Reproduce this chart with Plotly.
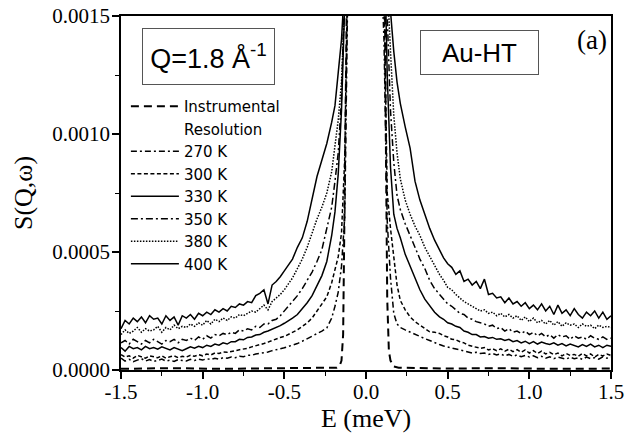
import plotly.graph_objects as go

# ---------------- data (S(Q,w) values in units of 1e-4) ----------------
SCALE = 1e-4

E_left = [-1.500, -1.475, -1.450, -1.425, -1.400, -1.375, -1.350, -1.325, -1.300, -1.275,
          -1.250, -1.225, -1.200, -1.175, -1.150, -1.125, -1.100, -1.075, -1.050, -1.025,
          -1.000, -0.975, -0.950, -0.925, -0.900, -0.875, -0.850, -0.825, -0.800, -0.775,
          -0.750, -0.725, -0.700, -0.675, -0.650, -0.625, -0.600, -0.575, -0.550, -0.525,
          -0.500, -0.475, -0.450]
E_core = [-0.42, -0.39, -0.36, -0.33, -0.30, -0.27, -0.24, -0.21, -0.19, -0.17, -0.15, -0.13, -0.11,
          0.0,
          0.11, 0.13, 0.15, 0.17, 0.19, 0.21, 0.24, 0.27, 0.30, 0.33, 0.36, 0.39, 0.42]
E_right = [0.450, 0.475, 0.500, 0.525, 0.550, 0.575, 0.600, 0.625, 0.650, 0.675,
           0.700, 0.725, 0.750, 0.775, 0.800, 0.825, 0.850, 0.875, 0.900, 0.925,
           0.950, 0.975, 1.000, 1.025, 1.050, 1.075, 1.100, 1.125, 1.150, 1.175,
           1.200, 1.225, 1.250, 1.275, 1.300, 1.325, 1.350, 1.375, 1.400, 1.425,
           1.450, 1.475, 1.500]
E = E_left + E_core + E_right

s400 = ([1.75, 2.1, 1.95, 2.2, 2.05, 2.25, 2.0, 2.3, 2.15, 2.2, 1.95, 2.3, 2.1, 2.25, 1.9, 2.3, 2.2, 2.35,
         2.15, 2.4, 2.3, 2.45, 2.35, 2.55, 2.45, 2.6, 2.5, 2.7, 2.65, 2.8, 2.75, 2.9, 2.85, 3.15, 3.25, 3.4,
         2.8, 3.6, 3.75, 3.95, 4.2, 4.45, 4.7]
        + [5.2, 5.6, 6.3, 7.2, 8.2, 8.9, 9.6, 10.5, 11.2, 12.6, 14.0, 16.5, 20, 60,
           22, 18, 15.2, 13.5, 12.2, 11.3, 10.3, 9.4, 8.0, 7.2, 6.6, 6.0, 5.5]
        + [5.1, 4.75, 4.5, 4.35, 4.05, 4.2, 3.75, 3.85, 3.6, 3.75, 3.45, 3.85, 3.2, 3.25, 3.05, 3.1, 2.85,
           3.05, 2.8, 2.9, 2.7, 2.85, 2.6, 2.75, 2.55, 2.8, 2.5, 2.7, 2.35, 2.75, 2.4, 2.55, 2.3, 2.6, 2.35,
           2.2, 2.45, 2.3, 2.5, 2.2, 2.45, 2.15, 2.3])

s380 = ([1.5, 1.7, 1.55, 1.65, 1.8, 1.6, 1.75, 1.65, 1.7, 1.85, 1.6, 1.8, 1.7, 1.9, 1.75, 1.85, 1.8, 1.95,
         1.85, 2.0, 1.9, 2.1, 1.95, 2.15, 2.05, 2.2, 2.1, 2.25, 2.2, 2.35, 2.3, 2.4, 2.5, 2.45, 2.6, 2.75,
         2.55, 2.9, 3.05, 3.2, 3.4, 3.65, 3.9]
        + [4.3, 4.7, 5.2, 5.8, 6.4, 6.9, 7.5, 8.4, 9.4, 10.6, 12.2, 15, 19, 55,
           20, 16.5, 13.5, 10.8, 9.2, 8.1, 7.2, 6.6, 6.1, 5.7, 5.2, 4.8, 4.4]
        + [4.05, 3.8, 3.5, 3.4, 3.2, 3.05, 2.9, 2.8, 2.7, 2.6, 2.5, 2.55, 2.4, 2.45, 2.3, 2.4, 2.25, 2.35,
           2.2, 2.3, 2.1, 2.25, 2.05, 2.2, 2.0, 2.1, 1.95, 2.1, 1.9, 2.05, 1.85, 2.0, 1.9, 1.95, 1.8, 1.95,
           1.85, 1.9, 1.75, 1.9, 1.8, 1.85, 1.8])

s350 = ([1.15, 1.25, 1.1, 1.3, 1.2, 1.1, 1.25, 1.15, 1.3, 1.2, 1.1, 1.25, 1.2, 1.3, 1.15, 1.3, 1.25, 1.35,
         1.25, 1.4, 1.3, 1.45, 1.35, 1.5, 1.45, 1.55, 1.5, 1.6, 1.55, 1.7, 1.65, 1.75, 1.7, 1.85, 1.8, 1.95,
         1.95, 2.1, 2.15, 2.3, 2.5, 2.7, 2.9]
        + [3.15, 3.45, 3.8, 4.15, 4.6, 5.1, 6.0, 6.9, 8.0, 9.2, 11.5, 15, 19, 50,
           19, 14.5, 11, 8.8, 7.4, 6.8, 6.2, 5.7, 5.2, 4.7, 4.3, 3.8, 3.45]
        + [3.2, 3.0, 2.8, 2.7, 2.55, 2.4, 2.35, 2.2, 2.15, 2.05, 2.0, 1.95, 1.85, 1.9, 1.75, 1.8, 1.65, 1.75,
           1.6, 1.65, 1.55, 1.65, 1.5, 1.6, 1.45, 1.55, 1.4, 1.5, 1.35, 1.5, 1.4, 1.45, 1.3, 1.45, 1.35, 1.4,
           1.3, 1.45, 1.35, 1.3, 1.4, 1.3, 1.35])

s330 = ([0.95, 0.8, 1.0, 0.9, 0.95, 0.85, 1.0, 0.9, 0.95, 0.88, 0.98, 0.92, 0.85, 0.95, 0.88, 0.82, 0.9,
         0.98, 0.92, 1.0, 0.95, 1.05, 1.0, 1.1, 1.05, 1.15, 1.1, 1.2, 1.2, 1.3, 1.28, 1.38, 1.4, 1.48, 1.5,
         1.6, 1.65, 1.72, 1.8, 1.88, 1.98, 2.08, 2.2]
        + [2.35, 2.6, 2.85, 3.15, 3.55, 4.0, 4.6, 5.7, 6.7, 8.3, 11, 15.5, 21, 45,
           19, 12.5, 8.6, 6.6, 6.0, 5.6, 4.9, 4.4, 3.9, 3.4, 3.0, 2.7, 2.45]
        + [2.25, 2.15, 2.0, 1.95, 1.85, 1.8, 1.65, 1.6, 1.5, 1.5, 1.4, 1.42, 1.35, 1.38, 1.3, 1.32, 1.25,
           1.3, 1.2, 1.25, 1.15, 1.22, 1.12, 1.2, 1.1, 1.18, 1.12, 1.08, 1.15, 1.05, 1.12, 1.02, 1.1, 1.05,
           0.98, 1.08, 1.0, 1.1, 0.98, 1.05, 0.95, 1.05, 1.0])

s300 = ([0.65, 0.55, 0.6, 0.5, 0.62, 0.55, 0.5, 0.6, 0.55, 0.52, 0.6, 0.5, 0.56, 0.6, 0.52, 0.58, 0.55,
         0.62, 0.58, 0.65, 0.6, 0.68, 0.64, 0.72, 0.7, 0.76, 0.75, 0.8, 0.82, 0.86, 0.88, 0.92, 0.98, 1.02,
         1.08, 1.12, 1.18, 1.25, 1.3, 1.38, 1.42, 1.5, 1.58]
        + [1.7, 1.85, 2.0, 2.2, 2.5, 2.8, 3.1, 3.7, 4.2, 4.8, 5.8, 9, 18, 40,
           16, 7.5, 6.0, 4.7, 3.6, 2.95, 2.55, 2.25, 2.05, 1.9, 1.75, 1.62, 1.6]
        + [1.55, 1.45, 1.4, 1.3, 1.28, 1.2, 1.15, 1.05, 1.0, 0.95, 0.92, 0.95, 0.85, 0.9, 0.82, 0.9, 0.8,
           0.88, 0.78, 0.86, 0.75, 0.85, 0.72, 0.82, 0.7, 0.8, 0.68, 0.75, 0.65, 0.72, 0.6, 0.7, 0.62, 0.66,
           0.58, 0.7, 0.6, 0.68, 0.55, 0.66, 0.6, 0.68, 0.62])

s270 = ([0.5, 0.38, 0.45, 0.35, 0.42, 0.48, 0.38, 0.44, 0.36, 0.42, 0.46, 0.38, 0.42, 0.36, 0.44, 0.4,
         0.38, 0.45, 0.4, 0.46, 0.42, 0.48, 0.44, 0.5, 0.46, 0.52, 0.5, 0.55, 0.52, 0.58, 0.56, 0.62, 0.62,
         0.68, 0.7, 0.74, 0.76, 0.82, 0.85, 0.9, 0.94, 1.0, 1.05]
        + [1.12, 1.22, 1.32, 1.42, 1.55, 1.65, 1.78, 2.2, 2.7, 3.3, 4.4, 6.5, 17, 35,
           14, 6.3, 3.9, 2.4, 1.95, 1.8, 1.7, 1.6, 1.52, 1.42, 1.33, 1.25, 1.15]
        + [1.08, 1.02, 0.98, 0.92, 0.88, 0.84, 0.8, 0.76, 0.72, 0.75, 0.7, 0.72, 0.66, 0.7, 0.64, 0.68, 0.6,
           0.66, 0.58, 0.64, 0.56, 0.62, 0.55, 0.6, 0.52, 0.58, 0.5, 0.56, 0.48, 0.55, 0.5, 0.46, 0.54, 0.48,
           0.52, 0.45, 0.55, 0.48, 0.52, 0.46, 0.56, 0.5, 0.55])

E_res = [-1.5, -1.2, -0.9, -0.6, -0.4, -0.25, -0.18, -0.16, -0.15, -0.14, -0.13, -0.12, -0.11, -0.08,
         0.0, 0.08, 0.11, 0.12, 0.13, 0.14, 0.15, 0.16, 0.17, 0.2, 0.3, 0.5, 0.8, 1.1, 1.5]
s_res = [0.05, 0.08, 0.05, 0.07, 0.06, 0.08, 0.1, 0.2, 0.4, 1.5, 7, 14, 22, 60,
         150, 60, 22, 11, 3, 0.8, 0.4, 0.25, 0.15, 0.1, 0.08, 0.06, 0.08, 0.05, 0.06]

series_names = ["270 K", "300 K", "330 K", "350 K", "380 K", "400 K"]
series_values = [s270, s300, s330, s350, s380, s400]
series_dash = ["6px,3px,2px,3px", "4px,2.5px", "solid", "7px,3px,2px,3px", "1.5px,1.5px", "solid"]

x_tickvals = [-1.5, -1.0, -0.5, 0.0, 0.5, 1.0, 1.5]
x_ticktext = ["-1.5", "-1.0", "-0.5", "0.0", "0.5", "1.0", "1.5"]
y_tickvals = [0.0, 0.0005, 0.0010, 0.0015]
y_ticktext = ["0.0000", "0.0005", "0.0010", "0.0015"]

for s in series_values:
    assert len(s) == len(E)
assert len(s_res) == len(E_res)

# ---------------- figure ----------------
fig = go.Figure()

fig.add_trace(go.Scatter(x=E_res, y=[v * SCALE for v in s_res], mode="lines",
                         name="Instrumental",
                         line=dict(color="black", width=2, dash="8px,5px")))
# second line of the legend label (no line sample)
fig.add_trace(go.Scatter(x=[None], y=[None], mode="lines", name="Resolution",
                         line=dict(color="rgba(0,0,0,0)", width=0)))

for name, vals, dash in zip(series_names, series_values, series_dash):
    fig.add_trace(go.Scatter(x=E, y=[v * SCALE for v in vals], mode="lines", name=name,
                             line=dict(color="black", width=1.5, dash=dash)))

serif = "Liberation Serif, Times New Roman, serif"
sans = "Liberation Sans, Arial, sans-serif"

fig.update_layout(
    width=626, height=440,
    margin=dict(l=121, r=15, t=16, b=70, autoexpand=False),
    plot_bgcolor="white", paper_bgcolor="white",
    showlegend=True,
    legend=dict(x=0.010, y=0.791, xanchor="left", yanchor="top",
                font=dict(family="DejaVu Sans", size=15, color="black"),
                bgcolor="rgba(0,0,0,0)", itemwidth=48, traceorder="normal",
                tracegroupgap=0),
    xaxis=dict(range=[-1.5, 1.5], showline=True, linecolor="black", linewidth=1.5, mirror=True,
               automargin=False,
               ticks="outside", ticklen=7, tickwidth=1.5, tickcolor="black",
               tickvals=x_tickvals, ticktext=x_ticktext, ticklabelstandoff=-5,
               tickfont=dict(family=serif, size=21, color="black"),
               minor=dict(dtick=0.25, ticks="outside", ticklen=4, tickwidth=1.2, tickcolor="black"),
               showgrid=False, zeroline=False,
               title=dict(text="E (meV)", font=dict(family=serif, size=26, color="black"), standoff=4)),
    yaxis=dict(range=[0, 0.0015], showline=True, linecolor="black", linewidth=1.5, mirror=True,
               automargin=False,
               ticks="outside", ticklen=7, tickwidth=1.5, tickcolor="black",
               tickvals=y_tickvals, ticktext=y_ticktext, ticklabelstandoff=-2,
               tickfont=dict(family=serif, size=21, color="black"),
               minor=dict(dtick=0.00025, ticks="outside", ticklen=4, tickwidth=1.2, tickcolor="black"),
               showgrid=False, zeroline=False,
               title=dict(text="S(Q,ω)", font=dict(family=serif, size=26, color="black"), standoff=12)),
)

fig.add_annotation(xref="paper", yref="paper", x=0.1776, y=0.8856, xanchor="center", yanchor="middle",
                   text="Q=1.8 Å<sup>-1</sup>", showarrow=False,
                   font=dict(family=sans, size=27, color="black"),
                   bordercolor="#555", borderwidth=1, borderpad=0, width=131, height=55)
fig.add_annotation(xref="paper", yref="paper", x=0.7316, y=0.8969, xanchor="center", yanchor="middle",
                   text="Au-HT", showarrow=False,
                   font=dict(family=sans, size=26, color="black"),
                   bordercolor="#555", borderwidth=1, borderpad=0, width=117, height=43)
fig.add_annotation(xref="paper", yref="paper", x=0.961, y=0.932, xanchor="center", yanchor="middle",
                   text="(a)", showarrow=False,
                   font=dict(family=serif, size=27, color="black"))

# remove the default 8px page margin so the figure fills the window exactly
fig.write_html("out.html", config={"displayModeBar": False},
               post_script="document.body.style.margin='0';")
